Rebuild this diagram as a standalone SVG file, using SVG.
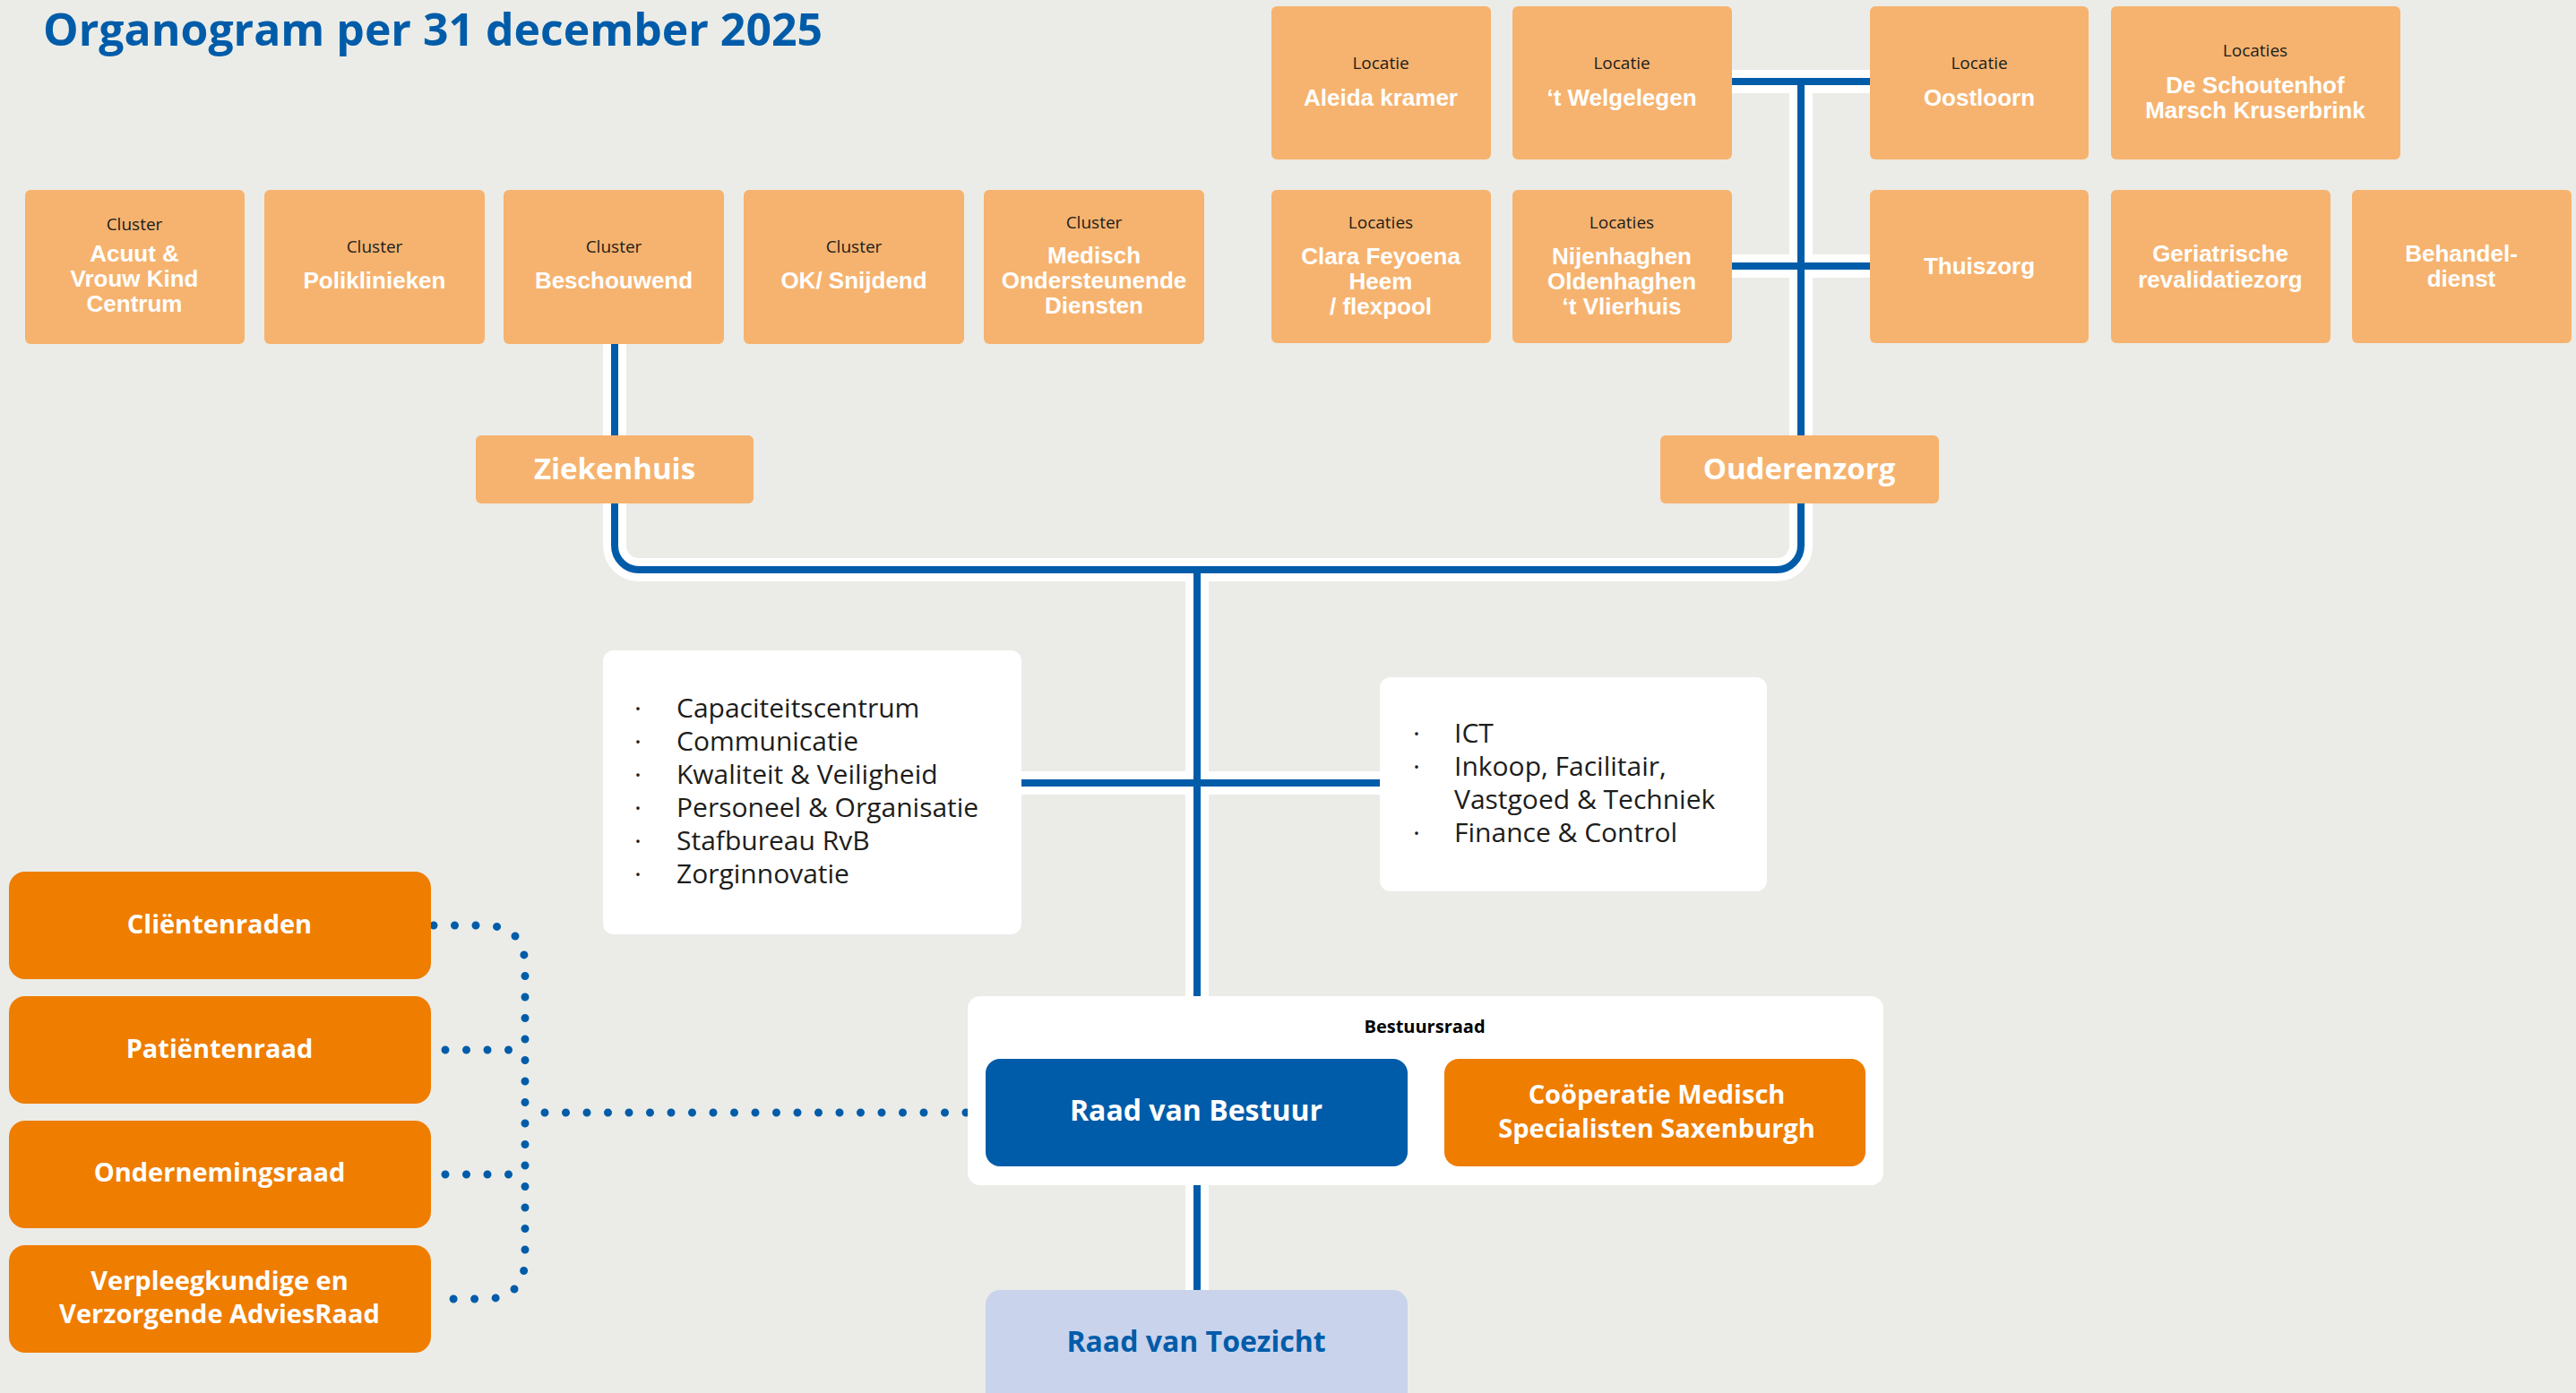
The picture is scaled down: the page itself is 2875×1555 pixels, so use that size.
<svg xmlns="http://www.w3.org/2000/svg" width="2875" height="1555" viewBox="0 0 2875 1555">
<style>
text{font-family:"Open Sans","Noto Sans","Liberation Sans",sans-serif;text-anchor:middle}
.lo{fill:#F6B36F}
.or{fill:#EF7D00}
.sm{font-size:19px;fill:#1d1d1b}
.bt{font-family:"Liberation Sans",Arial,sans-serif;font-size:26px;font-weight:700;fill:#fff}
.hd{font-size:33px;font-weight:700;fill:#fff}
.rb{font-size:29px;font-weight:700;fill:#fff}
.li{font-size:30px;fill:#1d1d1b;text-anchor:start}
.halo{fill:none;stroke:#fff;stroke-width:26}
.line{fill:none;stroke:#005CA9;stroke-width:8}
.dot{fill:none;stroke:#005CA9;stroke-width:9;stroke-linecap:round;stroke-dasharray:0 23.5}
</style>
<rect width="2875" height="1555" fill="#EBECE7"/>
<text x="48" y="51" style="font-size:51px;font-weight:700;fill:#005CA9;text-anchor:start" textLength="870" lengthAdjust="spacingAndGlyphs">Organogram per 31 december 2025</text>

<g id="connectors">
<path class="halo" d="M686 384V609A27 27 0 0 0 713 636H1983A27 27 0 0 0 2010 609V91"/>
<path class="halo" d="M1933 91H2087M1933 297H2087M1336 636V1440M1140 874H1540"/>
<path class="line" d="M686 384V609A27 27 0 0 0 713 636H1983A27 27 0 0 0 2010 609V91"/>
<path class="line" d="M1933 91H2087M1933 297H2087M1336 636V1440M1140 874H1540"/>
<path class="dot" d="M484 1033H540Q586 1033 586 1079V1404Q586 1450 540 1450H484"/>
<path class="dot" d="M497 1172H586M497 1311H586"/>
<path class="dot" d="M608 1242H1080"/>
</g>

<g id="cluster-acuut"><rect class="lo" x="28" y="212" width="245" height="172" rx="6"/><text class="sm" x="150" y="257">Cluster</text><text class="bt" x="150" y="292">Acuut &amp;<tspan x="150" dy="28">Vrouw  Kind</tspan><tspan x="150" dy="28">Centrum</tspan></text></g>
<g id="cluster-poli"><rect class="lo" x="295" y="212" width="246" height="172" rx="6"/><text class="sm" x="418" y="282">Cluster</text><text class="bt" x="418" y="322">Poliklinieken</text></g>
<g id="cluster-beschouwend"><rect class="lo" x="562" y="212" width="246" height="172" rx="6"/><text class="sm" x="685" y="282">Cluster</text><text class="bt" x="685" y="322">Beschouwend</text></g>
<g id="cluster-ok"><rect class="lo" x="830" y="212" width="246" height="172" rx="6"/><text class="sm" x="953" y="282">Cluster</text><text class="bt" x="953" y="322">OK/ Snijdend</text></g>
<g id="cluster-mod"><rect class="lo" x="1098" y="212" width="246" height="172" rx="6"/><text class="sm" x="1221" y="255">Cluster</text><text class="bt" x="1221" y="294">Medisch<tspan x="1221" dy="28">Ondersteunende</tspan><tspan x="1221" dy="28">Diensten</tspan></text></g>

<g id="loc-aleida"><rect class="lo" x="1419" y="7" width="245" height="171" rx="6"/><text class="sm" x="1541" y="77">Locatie</text><text class="bt" x="1541" y="118">Aleida kramer</text></g>
<g id="loc-welgelegen"><rect class="lo" x="1688" y="7" width="245" height="171" rx="6"/><text class="sm" x="1810" y="77">Locatie</text><text class="bt" x="1810" y="118">‘t Welgelegen</text></g>
<g id="loc-oostloorn"><rect class="lo" x="2087" y="7" width="244" height="171" rx="6"/><text class="sm" x="2209" y="77">Locatie</text><text class="bt" x="2209" y="118">Oostloorn</text></g>
<g id="loc-schoutenhof"><rect class="lo" x="2356" y="7" width="323" height="171" rx="6"/><text class="sm" x="2517" y="63">Locaties</text><text class="bt" x="2517" y="104">De Schoutenhof<tspan x="2517" dy="28">Marsch Kruserbrink</tspan></text></g>
<g id="loc-clara"><rect class="lo" x="1419" y="212" width="245" height="171" rx="6"/><text class="sm" x="1541" y="255">Locaties</text><text class="bt" x="1541" y="295">Clara Feyoena<tspan x="1541" dy="28">Heem</tspan><tspan x="1541" dy="28">/ flexpool</tspan></text></g>
<g id="loc-nijenhaghen"><rect class="lo" x="1688" y="212" width="245" height="171" rx="6"/><text class="sm" x="1810" y="255">Locaties</text><text class="bt" x="1810" y="295">Nijenhaghen<tspan x="1810" dy="28">Oldenhaghen</tspan><tspan x="1810" dy="28">‘t Vlierhuis</tspan></text></g>
<g id="thuiszorg"><rect class="lo" x="2087" y="212" width="244" height="171" rx="6"/><text class="bt" x="2209" y="306">Thuiszorg</text></g>
<g id="geriatrische"><rect class="lo" x="2356" y="212" width="245" height="171" rx="6"/><text class="bt" x="2478" y="292">Geriatrische<tspan x="2478" dy="29">revalidatiezorg</tspan></text></g>
<g id="behandeldienst"><rect class="lo" x="2625" y="212" width="245" height="171" rx="6"/><text class="bt" x="2747" y="292">Behandel-<tspan x="2747" dy="28">dienst</tspan></text></g>

<g id="ziekenhuis"><rect class="lo" x="531" y="486" width="310" height="76" rx="6"/><text class="hd" x="686" y="535">Ziekenhuis</text></g>
<g id="ouderenzorg"><rect class="lo" x="1853" y="486" width="311" height="76" rx="6"/><text class="hd" x="2008" y="535">Ouderenzorg</text></g>

<g id="staf-links"><rect x="673" y="726" width="467" height="317" rx="12" fill="#fff"/>
<text class="li" x="708" y="801">·</text><text class="li" x="755" y="801">Capaciteitscentrum</text>
<text class="li" x="708" y="838">·</text><text class="li" x="755" y="838">Communicatie</text>
<text class="li" x="708" y="875">·</text><text class="li" x="755" y="875">Kwaliteit &amp; Veiligheid</text>
<text class="li" x="708" y="912">·</text><text class="li" x="755" y="912">Personeel &amp; Organisatie</text>
<text class="li" x="708" y="949">·</text><text class="li" x="755" y="949">Stafbureau RvB</text>
<text class="li" x="708" y="986">·</text><text class="li" x="755" y="986">Zorginnovatie</text>
</g>
<g id="staf-rechts"><rect x="1540" y="756" width="432" height="239" rx="12" fill="#fff"/>
<text class="li" x="1577" y="829">·</text><text class="li" x="1623" y="829">ICT</text>
<text class="li" x="1577" y="866">·</text><text class="li" x="1623" y="866">Inkoop, Facilitair,<tspan x="1623" dy="37">Vastgoed &amp; Techniek</tspan></text>
<text class="li" x="1577" y="940">·</text><text class="li" x="1623" y="940">Finance &amp; Control</text>
</g>

<g id="clientenraden"><rect class="or" x="10" y="973" width="471" height="120" rx="18"/><text class="rb" x="245" y="1042">Cliëntenraden</text></g>
<g id="patientenraad"><rect class="or" x="10" y="1112" width="471" height="120" rx="18"/><text class="rb" x="245" y="1181">Patiëntenraad</text></g>
<g id="ondernemingsraad"><rect class="or" x="10" y="1251" width="471" height="120" rx="18"/><text class="rb" x="245" y="1319">Ondernemingsraad</text></g>
<g id="vvar"><rect class="or" x="10" y="1390" width="471" height="120" rx="18"/><text class="rb" x="245" y="1440">Verpleegkundige en<tspan x="245" dy="37">Verzorgende AdviesRaad</tspan></text></g>

<g id="bestuursraad"><rect x="1080" y="1112" width="1022" height="211" rx="14" fill="#fff"/><text x="1590" y="1153" style="font-size:20px;font-weight:700;fill:#000">Bestuursraad</text></g>
<g id="raad-van-bestuur"><rect x="1100" y="1182" width="471" height="120" rx="16" fill="#005CA9"/><text x="1335" y="1251" style="font-size:32px;font-weight:700;fill:#fff">Raad van Bestuur</text></g>
<g id="cooperatie"><rect class="or" x="1612" y="1182" width="470" height="120" rx="16"/><text class="rb" x="1849" y="1232">Coöperatie Medisch<tspan x="1849" dy="38">Specialisten Saxenburgh</tspan></text></g>
<g id="raad-van-toezicht"><rect x="1100" y="1440" width="471" height="140" rx="16" fill="#C9D3EC"/><text x="1335" y="1509" style="font-size:32px;font-weight:700;fill:#005CA9">Raad van Toezicht</text></g>
</svg>
